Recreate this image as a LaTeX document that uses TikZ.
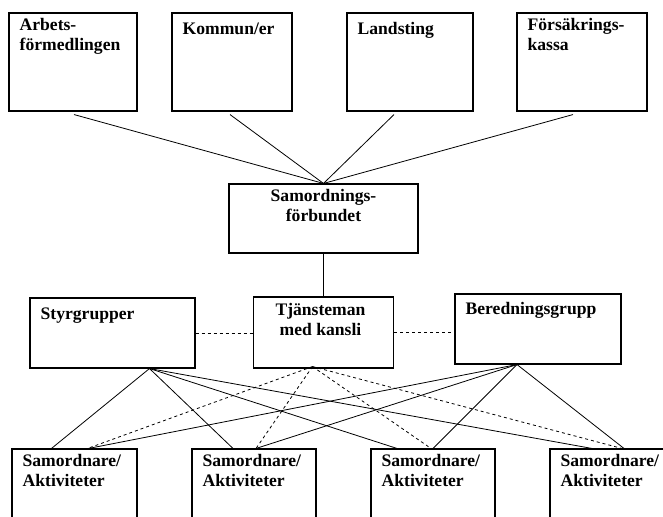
\documentclass[tikz,border=0pt]{standalone}
\usepackage{fontspec}
\setmainfont{Liberation Serif}
\tikzset{
	orgbox/.style={draw, line width=1.1pt, minimum height=#1, inner sep=0pt},
	orgbox/.default=98pt,
	cornertext/.style={anchor=north west, align=left, inner xsep=11pt, inner ysep=5.7pt, execute at begin node={\rule{0pt}{16pt}}},
	centertext/.style={anchor=north, align=center, inner xsep=0pt, inner ysep=5.7pt, execute at begin node={\rule{0pt}{16pt}}},
	link/.style={line width=0.8pt},
}
\begin{document}
\begin{tikzpicture}[x=1pt, y=-1pt, font=\bfseries\fontsize{17.6}{20}\selectfont]
	\useasboundingbox (0,0) rectangle (663,516);
	\clip (0,0) rectangle (663,516);
	% huvudmän
	\node[orgbox, minimum width=128pt, label={[cornertext]north west:{Arbets-\\förmedlingen}}] (arbets) at (73,62) {};
	\node[orgbox, minimum width=120pt, label={[cornertext]north west:{Kommun/er}}] (kommun) at (232,62) {};
	\node[orgbox, minimum width=126pt, label={[cornertext]north west:{Landsting}}] (landsting) at (410,62) {};
	\node[orgbox, minimum width=130pt, label={[cornertext]north west:{Försäkrings-\\kassa}}] (forsak) at (582,62) {};
	% förbundet och kansliet
	\node[orgbox=69pt, minimum width=189pt, label={[centertext]north:{Samordnings-\\förbundet}}] (samord) at (323.5,218.5) {};
	\node[orgbox=71pt, minimum width=140pt, label={[centertext, xshift=-3pt, yshift=-1pt]north:{Tjänsteman\\med kansli}}] (tjanst) at (323.5,332.5) {};
	\node[orgbox=70pt, minimum width=165pt, label={[cornertext]north west:{Styrgrupper}}] (styr) at (112.5,333) {};
	\node[orgbox=70pt, minimum width=166pt, label={[cornertext, yshift=1pt]north west:{Beredningsgrupp}}] (bered) at (538,329) {};
	% samordnare
	\node[orgbox=100pt, minimum width=125pt, label={[cornertext]north west:{Samordnare/\\Aktiviteter}}] (samA) at (74.5,499) {};
	\node[orgbox=100pt, minimum width=124pt, label={[cornertext]north west:{Samordnare/\\Aktiviteter}}] (samB) at (254,499) {};
	\node[orgbox=100pt, minimum width=124pt, label={[cornertext]north west:{Samordnare/\\Aktiviteter}}] (samC) at (433,499) {};
	\node[orgbox=100pt, minimum width=124pt, label={[cornertext]north west:{Samordnare/\\Aktiviteter}}] (samD) at (612,499) {};
	\draw[link] ([xshift=1pt,yshift=-3pt]arbets.south) -- (samord.north);
	\draw[link] ([xshift=-2pt,yshift=-3pt]kommun.south) -- (samord.north);
	\draw[link] ([xshift=-16pt,yshift=-3pt]landsting.south) -- (samord.north);
	\draw[link] ([xshift=-9pt,yshift=-3pt]forsak.south) -- (samord.north);
	\draw[link] (samord.south) -- (tjanst.north);
	\draw[link, dashed] (styr.east) -- (styr.east -| tjanst.west);
	\draw[link, dashed] (tjanst.east) -- (tjanst.east -| bered.west);
	\coordinate (styrfot) at ([xshift=37pt]styr.south);
	\coordinate (tjfot) at ([xshift=-11pt,yshift=2pt]tjanst.south);
	\coordinate (beredfot) at ([xshift=-21pt]bered.south);
	\draw[link] (styrfot) -- ([xshift=-23pt]samA.north);
	\draw[link] (styrfot) -- ([xshift=-21pt]samB.north);
	\draw[link] (styrfot) -- ([xshift=-36pt]samC.north);
	\draw[link] (styrfot) -- ([xshift=-20pt]samD.north);
	\draw[link, dashed] (tjfot) -- ([xshift=13pt]samA.north);
	\draw[link, dashed] (tjfot) -- ([xshift=2pt]samB.north);
	\draw[link, dashed] (tjfot) -- ([xshift=-2pt]samC.north);
	\draw[link, dashed] (tjfot) -- ([xshift=10pt]samD.north);
	\draw[link] (beredfot) -- ([xshift=14pt]samA.north);
	\draw[link] (beredfot) -- ([xshift=2pt]samB.north);
	\draw[link] (beredfot) -- ([xshift=0pt]samC.north);
	\draw[link] (beredfot) -- ([xshift=12pt]samD.north);
\end{tikzpicture}
\end{document}
